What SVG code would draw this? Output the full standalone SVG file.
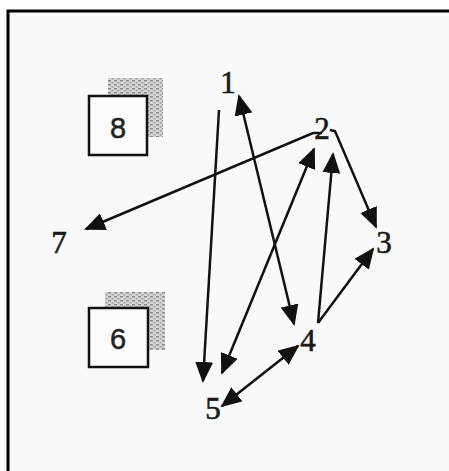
<svg xmlns="http://www.w3.org/2000/svg" width="449" height="471" viewBox="0 0 449 471">
<style>
.lbl{font-family:"Liberation Serif","Times New Roman",serif;font-size:31px;fill:#1a1a1a;text-anchor:middle;stroke:#1a1a1a;stroke-width:0.6}
.box{fill:#fbfbfb;stroke:#111;stroke-width:2.5}
.boxt{font-family:"Liberation Sans",Arial,sans-serif;font-size:29px;fill:#222;text-anchor:middle;stroke:#222;stroke-width:0.5}
.shadow{fill:url(#noise)}
.edge{stroke:#111;stroke-width:2.5;fill:none}
.frame{stroke:#000;stroke-width:3;fill:none}
</style>
<defs>
<marker id="ah" markerUnits="userSpaceOnUse" markerWidth="21" markerHeight="18" refX="19" refY="9" orient="auto-start-reverse" viewBox="0 0 21 18">
<path d="M0,0 L21,9 L0,18 z" fill="#111"/>
</marker>
<pattern id="noise" width="6" height="4" patternUnits="userSpaceOnUse">
<rect width="6" height="4" fill="#d6d6d6"/>
<rect x="0" y="0" width="3" height="1.5" fill="#8a8a8a"/>
<rect x="3.5" y="2" width="2" height="1.5" fill="#9a9a9a"/>
</pattern>
</defs>
<rect width="449" height="471" fill="#ffffff"/>
<rect x="8" y="11" width="441" height="460" fill="#f9f9f9"/>
<path class="frame" d="M8,471 L8,11 L449,11"/>
<g id="connectors">
<line class="edge" x1="219" y1="110" x2="203" y2="381" marker-end="url(#ah)"/>
<line class="edge" x1="294" y1="324" x2="239" y2="96" marker-start="url(#ah)" marker-end="url(#ah)"/>
<polyline class="edge" points="322,133 313,133 86,229" marker-end="url(#ah)"/>
<polyline class="edge" points="330,130 335,131 376,227" marker-end="url(#ah)"/>
<line class="edge" x1="222" y1="373" x2="314" y2="149" marker-start="url(#ah)" marker-end="url(#ah)"/>
<line class="edge" x1="318" y1="323" x2="333" y2="154" marker-end="url(#ah)"/>
<line class="edge" x1="318" y1="323" x2="373" y2="249" marker-end="url(#ah)"/>
<line class="edge" x1="222" y1="406" x2="298" y2="346" marker-start="url(#ah)" marker-end="url(#ah)"/>
</g>
<g id="node-1"><text class="lbl" x="228" y="93">1</text></g>
<g id="node-2"><text class="lbl" x="322" y="139">2</text></g>
<g id="node-3"><text class="lbl" x="384" y="253">3</text></g>
<g id="node-4"><text class="lbl" x="308" y="351">4</text></g>
<g id="node-5"><text class="lbl" x="213" y="419">5</text></g>
<g id="node-7"><text class="lbl" x="59" y="253">7</text></g>
<g id="node-8">
<rect class="shadow" x="108" y="78" width="55" height="59"/>
<rect class="box" x="89" y="96" width="58" height="59"/>
<text class="boxt" x="118" y="138">8</text>
</g>
<g id="node-6">
<rect class="shadow" x="105" y="292" width="60" height="58"/>
<rect class="box" x="89" y="308" width="59" height="59"/>
<text class="boxt" x="118" y="349">6</text>
</g>
</svg>
